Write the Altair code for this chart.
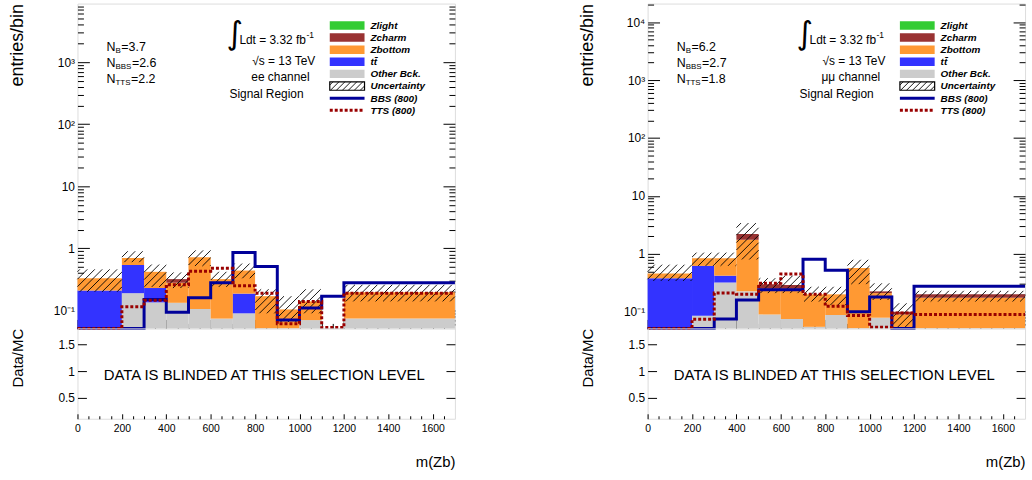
import math
import altair as alt
import pandas as pd

# ---------------- data ----------------
BIN_EDGES = [0, 200, 300, 400, 500, 600, 700, 800, 900, 1000, 1100, 1200, 1700]
COMPONENTS = ["Other Bck.", "tt\u0304", "Zbottom", "Zcharm", "Zlight"]
COMPONENT_COLORS = ["#cccccc", "#3333ff", "#ff9933", "#993333", "#33cc33"]

# ee channel
EE_OTHER = [0, 0.19, 0.135, 0.133, 0.106, 0.074, 0.09, 0, 0, 0.07, 0, 0.074]
EE_TTBAR = [0.21, 0.35, 0.095, 0, 0, 0, 0.097, 0, 0, 0, 0, 0]
EE_ZBOTTOM = [0.12, 0.16, 0.19, 0.147, 0.614, 0.246, 0.253, 0.17, 0.104, 0.07, 0, 0.122]
EE_ZCHARM = [0, 0, 0, 0.04, 0, 0, 0, 0, 0, 0, 0, 0]
EE_ZLIGHT = [0, 0, 0, 0, 0, 0, 0, 0, 0, 0, 0, 0]
EE_UNC_LO = [0.20, 0.60, 0.24, 0.23, 0.52, 0.24, 0.33, 0.09, 0.065, 0.09, 0, 0.14]
EE_UNC_HI = [0.46, 0.90, 0.55, 0.41, 0.93, 0.42, 0.57, 0.22, 0.17, 0.22, 0, 0.26]
EE_BBS = [0, 0, 0.15, 0.094, 0.16, 0.28, 0.86, 0.51, 0.07, 0.11, 0.17, 0.28]
EE_TTS = [0, 0.115, 0.146, 0.26, 0.43, 0.48, 0.25, 0.19, 0.061, 0.14, 0.053, 0.19]

# mumu channel
MM_OTHER = [0, 0.085, 0.32, 0.225, 0.09, 0.075, 0.055, 0.088, 0, 0.079, 0, 0]
MM_TTBAR = [0.38, 0.535, 0.10, 0, 0, 0, 0, 0, 0, 0, 0, 0]
MM_ZBOTTOM = [0.08, 0.22, 0.42, 1.525, 0.16, 0.175, 0.145, 0.112, 0.57, 0.131, 0.09, 0.174]
MM_ZCHARM = [0, 0, 0, 0.45, 0.05, 0.04, 0, 0, 0, 0.015, 0.01, 0.026]
MM_ZLIGHT = [0, 0, 0, 0, 0, 0, 0, 0, 0, 0, 0, 0]
MM_UNC_LO = [0.34, 0.62, 0.62, 0.80, 0.21, 0.21, 0.15, 0.13, 0.30, 0.16, 0.04, 0.15]
MM_UNC_HI = [0.65, 1.05, 1.05, 3.40, 0.38, 0.42, 0.27, 0.27, 0.79, 0.31, 0.14, 0.23]
MM_BBS = [0, 0, 0.075, 0.16, 0.24, 0.24, 0.81, 0.52, 0.10, 0.18, 0, 0.275]
MM_TTS = [0, 0.074, 0.21, 0.20, 0.31, 0.45, 0.20, 0.125, 0.086, 0.054, 0.095, 0.09]

LEGEND_LABELS = ["Zlight", "Zcharm", "Zbottom", "tt\u0304", "Other Bck.",
                 "Uncertainty", "BBS (800)", "TTS (800)"]
LEGEND_KINDS = ["fill", "fill", "fill", "fill", "fill", "hatch", "line", "dots"]
LEGEND_COLORS = ["#33cc33", "#993333", "#ff9933", "#3333ff", "#cccccc",
                 "black", "#000099", "#990000"]
BBS_COLOR = "#000099"
TTS_COLOR = "#990000"

X_MAJOR = [0, 200, 400, 600, 800, 1000, 1200, 1400, 1600]
X_MINOR = [v for v in range(50, 1700, 50) if v % 200]
EE_Y_TICKS = [0.1, 1, 10, 100, 1000]
EE_Y_LABELS = ["10\u207b\u00b9", "1", "10", "10\u00b2", "10\u00b3"]
MM_Y_TICKS = [0.1, 1, 10, 100, 1000, 10000]
MM_Y_LABELS = ["10\u207b\u00b9", "1", "10", "10\u00b2", "10\u00b3", "10\u2074"]
RATIO_TICKS = [0.5, 1, 1.5]

PANELS = [
    dict(other=EE_OTHER, ttbar=EE_TTBAR, zbottom=EE_ZBOTTOM, zcharm=EE_ZCHARM, zlight=EE_ZLIGHT,
         unc_lo=EE_UNC_LO, unc_hi=EE_UNC_HI, bbs=EE_BBS, tts=EE_TTS,
         ydom=[0.0515, 8790], yticks=EE_Y_TICKS, ylabels=EE_Y_LABELS,
         channel="ee channel", nb="3.7", nbbs="2.6", ntts="2.2"),
    dict(other=MM_OTHER, ttbar=MM_TTBAR, zbottom=MM_ZBOTTOM, zcharm=MM_ZCHARM, zlight=MM_ZLIGHT,
         unc_lo=MM_UNC_LO, unc_hi=MM_UNC_HI, bbs=MM_BBS, tts=MM_TTS,
         ydom=[0.0517, 20900], yticks=MM_Y_TICKS, ylabels=MM_Y_LABELS,
         channel="\u03bc\u03bc channel", nb="6.2", nbbs="2.7", ntts="1.8"),
]

# ---------------- layout ----------------
W, H_UP, H_LO = 380, 327, 91
COL_GAP = 194
X_DOMAIN = [0, 1700]
RATIO_DOMAIN = [0.111, 1.796]
FLOOR = 1e-3          # stand-in for "empty" on the log axis (clamped to the frame bottom)
FONT = "Liberation Sans"
HATCH_STEP = 7.5
TITLE_X = -55.5

DUMMY = pd.DataFrame({"x": [100], "y": [1]})


def hatch_segments(x0, x1, y0, y1, step):
    """45-degree '/' hatch lines clipped to a pixel rectangle (y0 top < y1 bottom)."""
    segs = []
    k0 = math.floor((x0 + y0) / step)
    k1 = math.ceil((x1 + y1) / step)
    for k in range(k0, k1 + 1):
        c = k * step
        a = max(x0, c - y1)
        b = min(x1, c - y0)
        if b - a > 0.4:
            segs.append((a, c - a, b, c - b))
    return segs


def tick_axis(orient, values, size, offset):
    return alt.Axis(orient=orient, values=values, tickSize=size, offset=offset,
                    labels=False, domain=False, grid=False, title=None, ticks=True,
                    tickColor="black", tickWidth=1)


def axis_layer(xs, ys, xaxis, yaxis):
    return alt.Chart(DUMMY).mark_point(opacity=0).encode(
        x=alt.X("x:Q", scale=xs, axis=xaxis),
        y=alt.Y("y:Q", scale=ys, axis=yaxis),
    )


def label_expr(ticks, labels):
    expr = f"'{labels[-1]}'"
    for t, l in reversed(list(zip(ticks[:-1], labels[:-1]))):
        expr = f"datum.value < {t * 3} ? '{l}' : " + expr
    return expr


def text_layer(df, **mark):
    return alt.Chart(df).mark_text(font=FONT, color="black", align="left",
                                   baseline="alphabetic", **mark).encode(
        x=alt.X("px:Q", scale=None, axis=None),
        y=alt.Y("py:Q", scale=None, axis=None),
        text="t:N",
        size=alt.Size("fs:Q", scale=None, legend=None),
    )


def upper_panel(p):
    ymin, ymax = p["ydom"]
    lmin, lmax = math.log10(ymin), math.log10(ymax)
    xs = alt.Scale(domain=X_DOMAIN, nice=False, zero=False)
    ys = alt.Scale(type="log", domain=p["ydom"], nice=False, clamp=True)

    def to_px(x):
        return (x - X_DOMAIN[0]) / (X_DOMAIN[1] - X_DOMAIN[0]) * W

    def to_py(y):
        return H_UP * (lmax - math.log10(y)) / (lmax - lmin)

    def from_px(px):
        return X_DOMAIN[0] + px / W * (X_DOMAIN[1] - X_DOMAIN[0])

    def from_py(py):
        return 10 ** (lmax - py / H_UP * (lmax - lmin))

    lo_edges, hi_edges = BIN_EDGES[:-1], BIN_EDGES[1:]
    series = [p["other"], p["ttbar"], p["zbottom"], p["zcharm"], p["zlight"]]

    # stacked background
    rows = []
    for i, (lo, hi) in enumerate(zip(lo_edges, hi_edges)):
        cum = 0.0
        for comp, vals in zip(COMPONENTS, series):
            v = vals[i]
            if v > 0:
                rows.append(dict(x0=lo, x1=hi, comp=comp,
                                 bottom=cum if cum > 0 else FLOOR, top=cum + v))
                cum += v
    stack = pd.DataFrame(rows)
    bars = alt.Chart(stack).mark_rect().encode(
        x=alt.X("x0:Q", scale=xs, axis=None), x2="x1",
        y=alt.Y("top:Q", scale=ys, axis=None), y2="bottom",
        color=alt.Color("comp:N", scale=alt.Scale(domain=COMPONENTS, range=COMPONENT_COLORS),
                        legend=None),
    )

    # hatched uncertainty band
    hrows = []
    for lo, hi, ulo, uhi in zip(lo_edges, hi_edges, p["unc_lo"], p["unc_hi"]):
        if uhi <= 0:
            continue
        py0 = to_py(uhi)
        py1 = to_py(max(ulo, ymin))
        for a, ya, b, yb in hatch_segments(to_px(lo), to_px(hi), py0, py1, HATCH_STEP):
            hrows.append(dict(hx=from_px(a), hy=from_py(ya), hx2=from_px(b), hy2=from_py(yb)))
    hatch = alt.Chart(pd.DataFrame(hrows)).mark_rule(color="black", strokeWidth=0.9).encode(
        x=alt.X("hx:Q", scale=xs, axis=None), x2="hx2",
        y=alt.Y("hy:Q", scale=ys, axis=None), y2="hy2",
    )

    def step_df(vals):
        xs_ = list(lo_edges) + [BIN_EDGES[-1]]
        ys_ = [v if v > 0 else FLOOR for v in vals] + [vals[-1] if vals[-1] > 0 else FLOOR]
        return pd.DataFrame({"x": xs_, "y": ys_})

    bbs = alt.Chart(step_df(p["bbs"])).mark_line(
        interpolate="step-after", color=BBS_COLOR, strokeWidth=3).encode(
        x=alt.X("x:Q", scale=xs, axis=None), y=alt.Y("y:Q", scale=ys, axis=None))
    tts = alt.Chart(step_df(p["tts"])).mark_line(
        interpolate="step-after", color=TTS_COLOR, strokeWidth=3, strokeDash=[3, 2]).encode(
        x=alt.X("x:Q", scale=xs, axis=None), y=alt.Y("y:Q", scale=ys, axis=None))

    # axes
    y_minor = [m * 10 ** k for k in range(-2, 6) for m in range(2, 10)
               if ymin < m * 10 ** k < ymax]
    y_major = [v for v in [10 ** k for k in range(-1, 6)] if v < ymax]
    y_label_axis = alt.Axis(
        orient="left", values=p["yticks"], labelExpr=label_expr(p["yticks"], p["ylabels"]),
        ticks=False, domain=False, grid=False, labelFontSize=12, labelPadding=3,
        labelColor="black", labelFont=FONT, labelOverlap=False,
        title="entries/bin", titleFontSize=18, titleFontWeight="normal", titleColor="black",
        titleFont=FONT, titleAngle=270, titleAlign="right", titleBaseline="alphabetic",
        titleX=TITLE_X, titleY=0)
    axes = [
        axis_layer(xs, ys, tick_axis("top", X_MAJOR, 9, -H_UP), y_label_axis),
        axis_layer(xs, ys, tick_axis("top", X_MINOR, 5, -H_UP), tick_axis("right", y_major, 12, -W)),
        axis_layer(xs, ys, None, tick_axis("right", y_minor, 6, -W)),
        axis_layer(xs, ys, None, tick_axis("left", y_major, 12, -W)),
        axis_layer(xs, ys, None, tick_axis("left", y_minor, 6, -W)),
    ]

    # legend (pixel positions inside the frame)
    sw_x0, sw_x1, txt_x, row0, drow, half = 254, 289, 295, 22, 12.2, 4.25
    leg = pd.DataFrame({
        "label": LEGEND_LABELS, "kind": LEGEND_KINDS, "col": LEGEND_COLORS,
        "cy": [row0 + i * drow for i in range(len(LEGEND_LABELS))],
    })
    leg["x0"], leg["x1"] = sw_x0, sw_x1
    leg["y0"], leg["y1"] = leg["cy"] - half, leg["cy"] + half
    fills = leg[leg.kind == "fill"]
    leg_fill = alt.Chart(fills).mark_rect().encode(
        x=alt.X("x0:Q", scale=None, axis=None), x2="x1",
        y=alt.Y("y0:Q", scale=None, axis=None), y2="y1",
        color=alt.Color("col:N", scale=None, legend=None))
    box = leg[leg.kind == "hatch"]
    leg_box = alt.Chart(box).mark_rect(fillOpacity=0, stroke="black", strokeWidth=1.2).encode(
        x=alt.X("x0:Q", scale=None, axis=None), x2="x1",
        y=alt.Y("y0:Q", scale=None, axis=None), y2="y1")
    b = box.iloc[0]
    lh = pd.DataFrame([dict(a=a, ya=ya, b=bb, yb=yb) for a, ya, bb, yb in
                       hatch_segments(b.x0, b.x1, b.y0, b.y1, 6)])
    leg_hatch = alt.Chart(lh).mark_rule(color="black", strokeWidth=0.9).encode(
        x=alt.X("a:Q", scale=None, axis=None), x2="b",
        y=alt.Y("ya:Q", scale=None, axis=None), y2="yb")
    leg_line = alt.Chart(leg[leg.kind == "line"]).mark_rule(color=BBS_COLOR, strokeWidth=3).encode(
        x=alt.X("x0:Q", scale=None, axis=None), x2="x1",
        y=alt.Y("cy:Q", scale=None, axis=None))
    leg_dots = alt.Chart(leg[leg.kind == "dots"]).mark_rule(
        color=TTS_COLOR, strokeWidth=3, strokeDash=[3, 2]).encode(
        x=alt.X("x0:Q", scale=None, axis=None), x2="x1",
        y=alt.Y("cy:Q", scale=None, axis=None))
    leg_text = text_layer(pd.DataFrame({"px": txt_x, "py": leg["cy"] + 3.5,
                                        "t": leg["label"], "fs": 10}),
                          fontStyle="italic", fontWeight="bold")

    # annotations
    sub_w = {"B": 0.667, "S": 0.667, "T": 0.611}
    ann = []
    for sub, val, base in (("B", p["nb"], 48), ("BBS", p["nbbs"], 64.3), ("TTS", p["ntts"], 80)):
        ann.append(dict(px=29.3, py=base, t="N", fs=12.5))
        ann.append(dict(px=38.3, py=base + 1.5, t=sub, fs=8))
        ann.append(dict(px=38.3 + 8 * sum(sub_w[c] for c in sub) + 0.5, py=base, t="=" + val, fs=12.5))
    ann += [
        dict(px=163, py=41, t="Ldt = 3.32 fb", fs=12),
        dict(px=230.5, py=35, t="-1", fs=8.5),
        dict(px=176, py=62, t="\u221as = 13 TeV", fs=12),
        dict(px=175, py=78, t=p["channel"], fs=12),
        dict(px=153, py=95, t="Signal Region", fs=12),
    ]
    ann_text = text_layer(pd.DataFrame(ann))
    integral = alt.Chart(pd.DataFrame([dict(px=150, py=41, t="\u222b", fs=32)])).mark_text(
        font="DejaVu Sans", color="black", align="left", baseline="alphabetic",
        fontWeight="normal").encode(
        x=alt.X("px:Q", scale=None, axis=None),
        y=alt.Y("py:Q", scale=None, axis=None),
        text="t:N", size=alt.Size("fs:Q", scale=None, legend=None))

    layers = [bars, hatch, bbs, tts] + axes + [leg_fill, leg_box, leg_hatch, leg_line, leg_dots,
                                               leg_text, ann_text, integral]
    return alt.layer(*layers).resolve_axis(x="independent", y="independent").properties(
        width=W, height=H_UP)


def lower_panel():
    xs = alt.Scale(domain=X_DOMAIN, nice=False, zero=False)
    ys = alt.Scale(domain=RATIO_DOMAIN, nice=False, zero=False)
    x_label_axis = alt.Axis(
        orient="bottom", values=X_MAJOR, format="d", ticks=False, domain=False, grid=False,
        labelFontSize=10.5, labelPadding=5, labelFlush=False, labelColor="black", labelFont=FONT,
        title="m(Zb)", titleFontSize=15, titleFontWeight="normal", titleColor="black",
        titleFont=FONT, titleAlign="right", titleBaseline="alphabetic", titleX=W, titleY=48)
    y_label_axis = alt.Axis(
        orient="left", values=RATIO_TICKS, format="~g", ticks=False, domain=False, grid=False,
        labelFontSize=12, labelPadding=3, labelColor="black", labelFont=FONT,
        title="Data/MC", titleFontSize=15, titleFontWeight="normal", titleColor="black",
        titleFont=FONT, titleAngle=270, titleAlign="right", titleBaseline="alphabetic",
        titleX=TITLE_X, titleY=0)
    axes = [
        axis_layer(xs, ys, x_label_axis, y_label_axis),
        axis_layer(xs, ys, tick_axis("top", X_MAJOR, 5, -H_LO), tick_axis("right", RATIO_TICKS, 9, -W)),
        axis_layer(xs, ys, tick_axis("top", X_MINOR, 3, -H_LO), tick_axis("left", RATIO_TICKS, 9, -W)),
    ]
    msg = alt.Chart(pd.DataFrame([dict(px=W / 2 - 2, py=47,
                                       t="DATA IS BLINDED AT THIS SELECTION LEVEL", fs=15)])).mark_text(
        font=FONT, color="black", align="center", baseline="middle").encode(
        x=alt.X("px:Q", scale=None, axis=None),
        y=alt.Y("py:Q", scale=None, axis=None),
        text="t:N", size=alt.Size("fs:Q", scale=None, legend=None))
    return alt.layer(*axes, msg).resolve_axis(x="independent", y="independent").properties(
        width=W, height=H_LO)


cells = [upper_panel(p) for p in PANELS] + [lower_panel() for _ in PANELS]
chart = alt.concat(*cells, columns=2, spacing={"row": 0, "column": COL_GAP},
                   bounds="flush").properties(
    padding={"left": 8, "top": 1, "right": 0, "bottom": 0}
).configure_view(stroke="black", strokeWidth=1).configure(font=FONT)

chart.save("out.html", embed_options={"renderer": "svg", "actions": False})
